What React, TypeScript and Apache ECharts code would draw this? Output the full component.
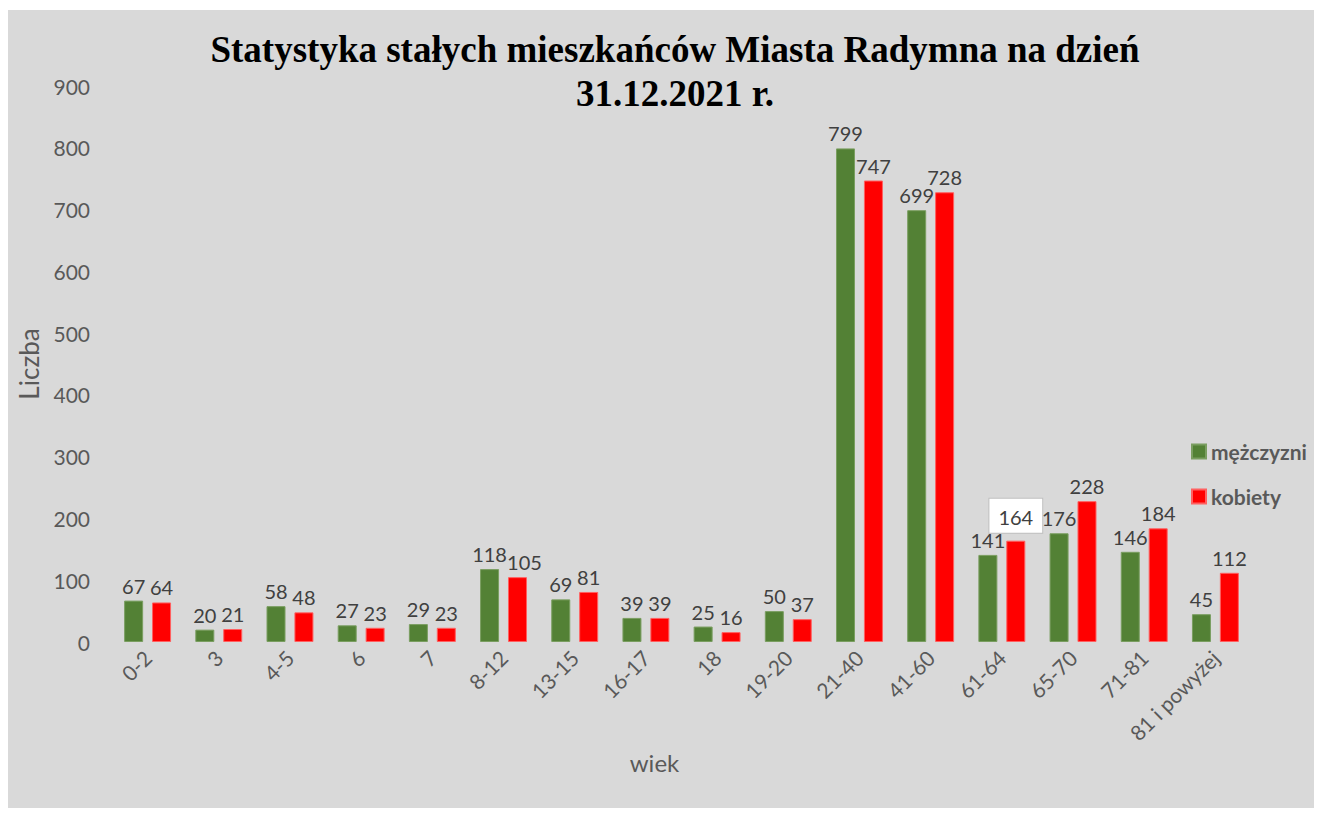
import React, { useEffect, useRef } from "react";
import * as echarts from "echarts";

const categories = ["0-2", "3", "4-5", "6", "7", "8-12", "13-15", "16-17", "18", "19-20", "21-40", "41-60", "61-64", "65-70", "71-81", "81 i powyżej"];
const men = [67, 20, 58, 27, 29, 118, 69, 39, 25, 50, 799, 699, 141, 176, 146, 45];
const women = [64, 21, 48, 23, 23, 105, 81, 39, 16, 37, 747, 728, 164, 228, 184, 112];
const yTicks = { min: 0, max: 900, interval: 100 };

const FONT = "Lato, 'Open Sans', sans-serif";

export default function App() {
  const ref = useRef<HTMLDivElement>(null);
  useEffect(() => {
    const chart = echarts.init(ref.current!, null, { renderer: "svg" });
    const labelBase = { show: true, position: "top", color: "#404040", fontSize: 20, fontFamily: FONT, distance: 5 };
    chart.setOption({
      animation: false,
      backgroundColor: "#d9d9d9",
      title: {
        text: "Statystyka stałych mieszkańców Miasta Radymna na dzień\n31.12.2021 r.",
        left: 662,
        textAlign: "center",
        top: 12,
        textStyle: { fontFamily: "'Liberation Serif', 'Times New Roman', serif", fontWeight: "bold", fontSize: 37, lineHeight: 44, color: "#000" },
      },
      legend: {
        orient: "vertical",
        left: 1178,
        top: 426,
        itemGap: 24,
        itemWidth: 14,
        itemHeight: 14,
        icon: "rect",
        textStyle: { fontFamily: FONT, fontWeight: "bold", fontSize: 21, color: "#595959" },
        data: ["mężczyzni", "kobiety"],
      },
      grid: { left: 102, right: 65, top: 76, bottom: 166, containLabel: false },
      xAxis: {
        type: "category",
        data: categories,
        axisLine: { show: false },
        axisTick: { show: false },
        axisLabel: { rotate: 45, fontSize: 21, color: "#595959", fontFamily: FONT, margin: 12, interval: 0 },
        name: "wiek",
        nameLocation: "middle",
        nameGap: 98,
        nameTextStyle: { fontSize: 24, color: "#595959", fontFamily: FONT, padding: [0, 54, 0, 0] },
      },
      yAxis: {
        type: "value",
        min: yTicks.min,
        max: yTicks.max,
        interval: yTicks.interval,
        splitLine: { show: false },
        axisLine: { show: false },
        axisTick: { show: false },
        axisLabel: { fontSize: 21, color: "#595959", fontFamily: FONT, margin: 22 },
        name: "Liczba",
        nameLocation: "middle",
        nameGap: 70,
        nameTextStyle: { fontSize: 26, color: "#595959", fontFamily: FONT },
      },
      series: [
        {
          name: "mężczyzni",
          type: "bar",
          data: men,
          barWidth: 19,
          barGap: "47%",
          itemStyle: { color: "#538135", borderColor: "#7a9e60", borderWidth: 1 },
          label: labelBase,
        },
        {
          name: "kobiety",
          type: "bar",
          data: women.map((v, i) => {
            if (i === 12)
              return {
                value: v,
                label: {
                  backgroundColor: "#fff",
                  borderColor: "#bfbfbf",
                  borderWidth: 1,
                  padding: [8, 9, 6, 9],
                  distance: 8,
                },
              };
            if (i === 5) return { value: v, label: { offset: [7, 0] } };
            return v;
          }),
          barWidth: 19,
          itemStyle: { color: "#ff0000", borderColor: "#ff6060", borderWidth: 1 },
          label: labelBase,
        },
      ],
    });
    return () => chart.dispose();
  }, []);
  return <div ref={ref} style={{ width: 1308, height: 798, marginTop: 2 }} />;
}
